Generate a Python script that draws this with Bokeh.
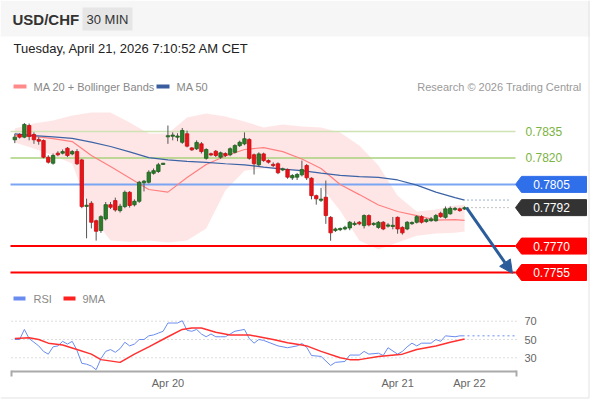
from bokeh.plotting import figure
from bokeh.models import Range1d, Arrow, NormalHead
from bokeh.core.properties import value
from bokeh.embed import file_html
from bokeh.resources import INLINE

# ---------------- data ----------------
opens = [0.78303,0.78333,0.78318,0.78384,0.78333,0.78305,0.78299,0.78204,0.78170,0.78227,
0.78227,0.78255,0.78223,0.78236,0.78189,0.77927,0.77943,0.77844,0.77788,0.77854,
0.77935,0.77958,0.77901,0.77924,0.78005,0.77934,0.77954,0.78059,0.78062,0.78113,
0.78123,0.78165,0.78322,0.78326,0.78320,0.78289,0.78337,0.78257,0.78252,0.78280,
0.78198,0.78223,0.78238,0.78204,0.78225,0.78218,0.78232,0.78270,0.78280,0.78305,
0.78218,0.78161,0.78223,0.78185,0.78163,0.78167,0.78132,0.78134,0.78087,0.78091,
0.78104,0.78157,0.78085,0.77986,0.77962,0.77977,0.77863,0.77788,0.77796,0.77797,
0.77803,0.77825,0.77835,0.77816,0.77873,0.77825,0.77806,0.77835,0.77816,0.77813,
0.77863,0.77806,0.77797,0.77830,0.77835,0.77867,0.77839,0.77844,0.77844,0.77886,
0.77863,0.77883,0.77910,0.77911,0.77910]
closes = [0.78318,0.78318,0.78390,0.78322,0.78303,0.78295,0.78204,0.78176,0.78214,0.78218,
0.78236,0.78214,0.78236,0.78167,0.77924,0.77930,0.77835,0.77784,0.77867,0.77935,
0.77920,0.77905,0.77926,0.78005,0.77930,0.77954,0.78062,0.78068,0.78119,0.78128,
0.78161,0.78168,0.78324,0.78327,0.78322,0.78356,0.78267,0.78246,0.78288,0.78236,
0.78248,0.78218,0.78214,0.78229,0.78214,0.78252,0.78270,0.78289,0.78309,0.78198,
0.78167,0.78223,0.78185,0.78176,0.78157,0.78116,0.78138,0.78091,0.78100,0.78106,
0.78134,0.78087,0.77986,0.77968,0.77964,0.77873,0.77775,0.77797,0.77797,0.77806,
0.77835,0.77826,0.77826,0.77873,0.77820,0.77826,0.77835,0.77797,0.77817,0.77816,
0.77797,0.77775,0.77835,0.77831,0.77867,0.77835,0.77850,0.77854,0.77873,0.77867,
0.77911,0.77914,0.77911,0.77901,0.77918]
highs = [0.78337,0.78340,0.78398,0.78395,0.78345,0.78318,0.78305,0.78215,0.78225,0.78238,
0.78248,0.78262,0.78245,0.78250,0.78195,0.77969,0.77955,0.77850,0.77875,0.77950,
0.77950,0.77975,0.77940,0.78015,0.78012,0.77965,0.78070,0.78075,0.78130,0.78140,
0.78172,0.78172,0.78384,0.78345,0.78340,0.78370,0.78355,0.78262,0.78300,0.78290,
0.78255,0.78230,0.78245,0.78236,0.78232,0.78260,0.78278,0.78298,0.78345,0.78312,
0.78225,0.78232,0.78230,0.78192,0.78175,0.78175,0.78145,0.78140,0.78108,0.78115,
0.78185,0.78165,0.78090,0.77992,0.78030,0.78072,0.77870,0.77805,0.77805,0.77815,
0.77842,0.77840,0.77842,0.77880,0.77880,0.77835,0.77842,0.77842,0.77830,0.77865,
0.77868,0.77812,0.77842,0.77840,0.77875,0.77875,0.77858,0.77865,0.77882,0.77895,
0.77925,0.77925,0.77922,0.77918,0.77925]
lows = [0.78284,0.78310,0.78312,0.78300,0.78280,0.78275,0.78198,0.78168,0.78162,0.78210,
0.78220,0.78205,0.78215,0.78160,0.77915,0.77744,0.77800,0.77731,0.77775,0.77845,
0.77910,0.77895,0.77890,0.77915,0.77918,0.77925,0.77945,0.78010,0.78055,0.78105,
0.78115,0.78160,0.78280,0.78300,0.78295,0.78280,0.78260,0.78240,0.78245,0.78225,
0.78190,0.78210,0.78205,0.78195,0.78205,0.78210,0.78225,0.78262,0.78272,0.78190,
0.78106,0.78150,0.78178,0.78168,0.78148,0.78108,0.78125,0.78082,0.78075,0.78075,
0.78095,0.78075,0.77965,0.77935,0.77950,0.77826,0.77730,0.77780,0.77785,0.77790,
0.77790,0.77815,0.77818,0.77800,0.77812,0.77815,0.77798,0.77790,0.77805,0.77795,
0.77770,0.77765,0.77790,0.77820,0.77828,0.77828,0.77832,0.77838,0.77838,0.77860,
0.77855,0.77878,0.77900,0.77895,0.77905]

ind_idx = [0,4,8,12,16,20,24,28,32,36,40,44,48,52,56,60,64,68,72,76,80,84,88,92,94]
ma20 = [0.78327,0.78322,0.78310,0.78293,0.78214,0.78151,0.78086,0.78021,0.78006,0.78089,
0.78163,0.78211,0.78248,0.78259,0.78236,0.78194,0.78140,0.78049,0.77992,0.77933,
0.77896,0.77873,0.77847,0.77850,0.77846]
ma50 = [0.78336,0.78327,0.78320,0.78311,0.78290,0.78265,0.78234,0.78202,0.78189,0.78181,
0.78175,0.78167,0.78161,0.78148,0.78137,0.78128,0.78114,0.78101,0.78094,0.78090,
0.78075,0.78046,0.78006,0.77975,0.77961]
boll_upper = [0.78367,0.78395,0.78412,0.78441,0.78458,0.78458,0.78401,0.78339,0.78339,0.78430,
0.78452,0.78435,0.78407,0.78373,0.78390,0.78378,0.78373,0.78344,0.78270,0.78157,
0.77986,0.77896,0.77907,0.77930,0.77935]
boll_lower = [0.78288,0.78253,0.78214,0.78168,0.77873,0.77731,0.77725,0.77731,0.77720,0.77731,
0.77799,0.78015,0.78128,0.78140,0.78140,0.78117,0.78038,0.77901,0.77731,0.77680,
0.77720,0.77759,0.77771,0.77776,0.77782]

rsi_idx = [0,1,2,3,4,5,6,7,8,9,10,11,12,13,14,15,16,17,18,19,20,21,22,23,24,25,26,27,28,29,
30,31,32,33,34,35,36,37,38,39,40,41,42,43,44,45,46,48,49,50,51,52,55,57,59,60,61,62,
64,66,67,69,70,72,73,74,76,77,78,80,81,82,83,84,85,87,88,89,90,92,93,94]
rsi_val = [50,50,61,51,47,43,37,34,42,43,48,45,48,38,24,23,21,17,29,37,
39,36,40,47,43,45,50,50,54,55,57,59,68,68,68,70.5,60,59,61,56,
53,56,53,53,53,56,59,61,51,46,50,49,43,41,43,45.6,41.5,32.5,
31.5,21.6,25,26,33,33,37,34,35,32.5,41,34,37,42,46,43,46,46,50,48,54,53,54,54]
ma9_idx = [0,3,5,7,10,13,16,18,22,25,28,32,35,37,39,42,45,49,51,54,57,60,61,64,68,70,72,76,81,84,88,91,94]
ma9_val = [51,52,50,46,44,39,34,28,25,34,42,53,61,62.5,62.5,58,55,55,53,50,
46.5,44,43,37,30,28,28,31.5,34,39,43,47,50.5]

resistances = [0.7835, 0.7820]
pivot = 0.7805
supports = [0.7770, 0.7755]
rsi_levels = [70, 50, 30]
date_ticks = [32, 80, 95]
date_labels = ["Apr 20", "Apr 21", "Apr 22"]

# ---------------- layout / scales ----------------
W, H = 590, 400
FONT = value("Liberation Sans")
X0, DX = 14.3, 4.785                # pixel of candle 0, pixels per candle
PPU = 141 / 0.008                   # pixels per price unit
TOP_P, TOP_Y = 0.7835, 131          # price at a given pixel row
R50_Y, RPPU = 339, 0.915            # RSI 50 row, px per RSI unit

x_start = -X0 / DX
x_end = (W - X0) / DX
p_end = TOP_P + TOP_Y / PPU
p_start = TOP_P - (H - TOP_Y) / PPU
r_end = 50 + R50_Y / RPPU
r_start = 50 - (H - R50_Y) / RPPU

p = figure(width=W, height=H, output_backend="svg", toolbar_location=None,
           x_range=Range1d(x_start, x_end), y_range=Range1d(p_start, p_end),
           x_axis_location=None, y_axis_location=None,
           min_border=0, min_border_left=0, min_border_right=0,
           min_border_top=0, min_border_bottom=0)
p.extra_x_ranges = {"px": Range1d(0, W)}
p.extra_y_ranges = {"px": Range1d(H, 0), "rsi": Range1d(r_start, r_end)}
p.grid.visible = False
p.outline_line_color = None
p.background_fill_color = "white"
p.border_fill_color = "white"

def px_text(x, y, t, size="11px", color="#888888", align="left", style="normal"):
    p.text(x=[x], y=[y], text=[t], x_range_name="px", y_range_name="px",
           text_font=FONT, text_font_size=size, text_color=color,
           text_align=align, text_baseline="middle", text_font_style=style)

# header
p.quad(left=[0], right=[W], top=[0], bottom=[36], x_range_name="px", y_range_name="px",
       fill_color="#f6f6f6", line_color=None)
p.quad(left=[82], right=[132], top=[7], bottom=[30], x_range_name="px", y_range_name="px",
       fill_color="#e6e6e6", line_color=None)
px_text(12, 19, "USD/CHF", size="15px", color="#333333", style="bold")
px_text(107, 19, "30 MIN", size="13px", color="#333333", align="center")
px_text(13, 48, "Tuesday, April 21, 2026 7:10:52 AM CET", size="13px", color="#222222")

# card border
p.line(x=[588.5, 588.5], y=[0, 397.5], x_range_name="px", y_range_name="px",
       line_color="#e3e3e3", line_width=1)
p.line(x=[0, 588.5], y=[397.5, 397.5], x_range_name="px", y_range_name="px",
       line_color="#e3e3e3", line_width=1)

# legend
p.quad(left=[13], right=[26], top=[84], bottom=[88], x_range_name="px", y_range_name="px",
       fill_color="#ff8a8a", line_color=None)
px_text(33, 86, "MA 20 + Bollinger Bands")
p.quad(left=[156], right=[169], top=[84], bottom=[88], x_range_name="px", y_range_name="px",
       fill_color="#3a5da0", line_color=None)
px_text(176, 86, "MA 50")
px_text(581, 86, "Research \u00a9 2026 Trading Central", color="#9a9a9a", align="right")

# Bollinger band
p.varea(x=ind_idx, y1=boll_lower, y2=boll_upper, fill_color="#ffe2e2", fill_alpha=0.85)

# level lines
res_colors = ["#cfe2b4", "#a8d27c"]
for lv, col in zip(resistances, res_colors):
    p.line(x=[10, 515], y=[lv, lv], x_range_name="px", line_color=col, line_width=1.5)
    p.text(x=[525], y=[lv], text=[f"{lv:.4f}"], x_range_name="px", text_font=FONT,
           text_font_size="12px", text_color="#7cb342", text_baseline="middle")
p.line(x=[10, 515], y=[pivot, pivot], x_range_name="px", line_color="#7aa5f2", line_width=2)
for lv in supports:
    p.line(x=[10, 515], y=[lv, lv], x_range_name="px", line_color="#ff0000", line_width=2)

# moving averages
p.line(x=ind_idx, y=ma20, line_color="#ff8080", line_width=1.2)
p.line(x=ind_idx, y=ma50, line_color="#3c63a6", line_width=1.2)

# dotted extensions
last = closes[-1]
p.line(x=[467, 510], y=[ma50[-1], ma50[-1]], x_range_name="px", line_color="#3c63a6",
       line_width=1, line_dash="1 3")
p.line(x=[467, 510], y=[last, last], x_range_name="px", line_color="#888888",
       line_width=1, line_dash="1 3")

# candles
n = len(opens)
idx = list(range(n))
min_h = 1.2 / PPU
tops, bots, fills, edges = [], [], [], []
for o, c in zip(opens, closes):
    t, b = max(o, c), min(o, c)
    if t - b < min_h:
        m = (t + b) / 2
        t, b = m + min_h / 2, m - min_h / 2
    tops.append(t)
    bots.append(b)
    up = c >= o
    fills.append("#2b7d2b" if up else "#e8141a")
    edges.append("#1d5e1d" if up else "#c80e12")
p.segment(x0=idx, y0=lows, x1=idx, y1=highs, line_color="#555555", line_width=1)
p.vbar(x=idx, top=tops, bottom=bots, width=0.72, fill_color=fills, line_color=edges,
       line_width=0.8)

# price label boxes
half = 8 / PPU
def price_box(lv, col):
    p.patch(x=[515, 521, 586, 586, 521], y=[lv, lv + half, lv + half, lv - half, lv - half],
            x_range_name="px", fill_color=col, line_color=col)
    p.text(x=[551], y=[lv], text=[f"{lv:.4f}"], x_range_name="px", text_font=FONT,
           text_font_size="12px", text_color="white", text_align="center",
           text_baseline="middle")
price_box(pivot, "#2f6fea")
price_box(last, "#333333")
for lv in supports:
    price_box(lv, "#ff0000")

# arrow
p.add_layout(Arrow(end=NormalHead(size=13, fill_color="#2b5d9b", line_color="#2b5d9b"),
                   x_start=n - 0.6, y_start=last, x_end=n + 9.0, y_end=supports[-1] - 0.1 * half,
                   line_color="#2b5d9b", line_width=3))

# RSI panel
p.quad(left=[13], right=[25], top=[296], bottom=[300], x_range_name="px", y_range_name="px",
       fill_color="#6a8cf0", line_color=None)
px_text(33, 298, "RSI")
p.quad(left=[63], right=[75], top=[296], bottom=[300], x_range_name="px", y_range_name="px",
       fill_color="#ff2020", line_color=None)
px_text(82, 298, "9MA")
for lv in rsi_levels:
    p.line(x=[11, 516], y=[lv, lv], x_range_name="px", y_range_name="rsi",
           line_color="#bbbbbb", line_width=1, line_dash="1 3")
    p.text(x=[524], y=[lv], text=[str(lv)], x_range_name="px", y_range_name="rsi",
           text_font=FONT, text_font_size="11px", text_color="#666666", text_baseline="middle")
p.line(x=rsi_idx, y=rsi_val, y_range_name="rsi", line_color="#6a8cf0", line_width=1)
p.line(x=[467, 516], y=[rsi_val[-1], rsi_val[-1]], x_range_name="px", y_range_name="rsi",
       line_color="#6a8cf0", line_width=1, line_dash="2 3")
p.line(x=ma9_idx, y=ma9_val, y_range_name="rsi", line_color="#ff3030", line_width=1.5)

# time axis
p.line(x=[11, 516], y=[371, 371], x_range_name="px", y_range_name="px",
       line_color="#aaaaaa", line_width=2)
p.segment(x0=[11, 516], y0=[370, 370], x1=[11, 516], y1=[376, 376], x_range_name="px",
          y_range_name="px", line_color="#aaaaaa", line_width=2)
p.text(x=date_ticks, y=[382] * len(date_ticks), text=date_labels, y_range_name="px",
       text_font=FONT, text_font_size="11px", text_color="#666666", text_align="center",
       text_baseline="middle")

open("out.html", "w").write(file_html(p, INLINE))
